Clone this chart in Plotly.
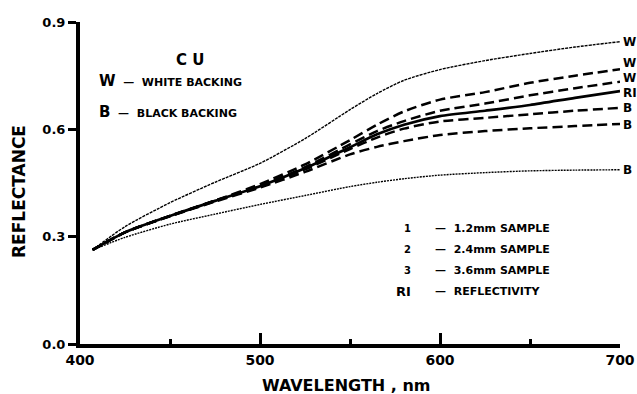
import plotly.graph_objects as go

# ---- data ----
wavelength = [407, 425, 450, 475, 500, 525, 550, 565, 580, 600, 625, 650, 675, 700]

w_thin = [0.263, 0.328, 0.395, 0.452, 0.505, 0.574, 0.655, 0.700, 0.737, 0.767, 0.792, 0.812, 0.830, 0.845]
w_dash_a = [0.263, 0.312, 0.358, 0.401, 0.447, 0.502, 0.570, 0.613, 0.650, 0.683, 0.704, 0.730, 0.750, 0.768]
w_dash_b = [0.263, 0.312, 0.358, 0.400, 0.443, 0.494, 0.558, 0.595, 0.623, 0.652, 0.672, 0.695, 0.715, 0.733]
reflectivity = [0.263, 0.312, 0.358, 0.400, 0.441, 0.491, 0.550, 0.586, 0.613, 0.637, 0.652, 0.668, 0.688, 0.707]
b_dash_a = [0.263, 0.312, 0.358, 0.400, 0.440, 0.488, 0.545, 0.577, 0.602, 0.622, 0.632, 0.642, 0.652, 0.660]
b_dash_b = [0.263, 0.312, 0.357, 0.398, 0.437, 0.481, 0.530, 0.551, 0.567, 0.584, 0.595, 0.603, 0.609, 0.615]
b_thin = [0.263, 0.298, 0.335, 0.363, 0.390, 0.415, 0.440, 0.452, 0.462, 0.472, 0.479, 0.484, 0.486, 0.487]

end_labels = ["W", "W", "W", "RI", "B", "B", "B"]
end_label_shift = [0, 6, 4, -2, 0, -1, 0]

x_ticks = [400, 500, 600, 700]
y_ticks = [0.0, 0.3, 0.6, 0.9]
y_ticktext = ["0.0", "0.3", "0.6", "0.9"]

legend_nums = ["1", "2", "3", "RI"]
legend_texts = ["1.2mm SAMPLE", "2.4mm SAMPLE", "3.6mm SAMPLE", "REFLECTIVITY"]

FONT = "DejaVu Sans"

series = [
    (w_thin, dict(width=1.4, dash="3px,1px")),
    (w_dash_a, dict(width=2.5, dash="10px,5px")),
    (w_dash_b, dict(width=2.5, dash="10px,5px")),
    (reflectivity, dict(width=2.7)),
    (b_dash_a, dict(width=2.5, dash="10px,5px")),
    (b_dash_b, dict(width=2.5, dash="10px,5px")),
    (b_thin, dict(width=1.4, dash="2px,1px")),
]

fig = go.Figure()
for vals, ln in series:
    fig.add_trace(go.Scatter(x=wavelength, y=vals, mode="lines",
                             line=dict(color="black", shape="spline", smoothing=0.7, **ln),
                             showlegend=False, hoverinfo="skip", cliponaxis=False))

annotations = []
for (vals, _), lab, sh in zip(series, end_labels, end_label_shift):
    annotations.append(dict(x=wavelength[-1], y=vals[-1], xref="x", yref="y", text=lab,
                            showarrow=False, xanchor="left", xshift=1, yshift=sh,
                            font=dict(family=FONT, size=12, color="black", weight="bold")))

# title block
annotations.append(dict(xref="x domain", yref="y domain", x=(174 - 80) / 540, y=(344 - 49) / 322,
                        text="C U", showarrow=False,
                        font=dict(family=FONT, size=15, color="black", weight="bold")))

for row_y, letter, words in [(81, "W", "WHITE BACKING"), (112, "B", "BLACK BACKING")]:
    annotations.append(dict(xref="x domain", yref="y domain", x=(97 - 80) / 540, y=(344 - row_y) / 322,
                            xanchor="left", yanchor="middle", showarrow=False,
                            text=f"<span style='font-size:15px'>{letter}</span>  —  {words}",
                            font=dict(family=FONT, size=11, color="black", weight="bold")))

# lower right key
for i, (num, txt) in enumerate(zip(legend_nums, legend_texts)):
    yy = (344 - (228 + i * 21)) / 322
    annotations.append(dict(xref="x domain", yref="y domain", x=(413 - 80) / 540, y=yy,
                            xanchor="right", yanchor="middle", showarrow=False, text=num,
                            font=dict(family=FONT, size=10 if num != "RI" else 13, color="black", weight="bold")))
    annotations.append(dict(xref="x domain", yref="y domain", x=(433 - 80) / 540, y=yy,
                            xanchor="left", yanchor="middle", showarrow=False, text=f"—  {txt}",
                            font=dict(family=FONT, size=11, color="black", weight="bold")))

# axis titles
annotations.append(dict(xref="x domain", yref="y domain", x=(346 - 80) / 540, y=(344 - 385) / 322,
                        xanchor="center", yanchor="middle", showarrow=False, text="WAVELENGTH , nm",
                        font=dict(family=FONT, size=16, color="black", weight="bold")))
annotations.append(dict(xref="x domain", yref="y domain", x=(19 - 80) / 540, y=(344 - 192) / 322,
                        xanchor="center", yanchor="middle", showarrow=False, text="REFLECTANCE",
                        textangle=-90,
                        font=dict(family=FONT, size=17, color="black", weight="bold")))

fig.update_layout(
    width=637, height=394,
    margin=dict(l=80, r=17, t=22, b=50, autoexpand=False),
    paper_bgcolor="white", plot_bgcolor="white",
    annotations=annotations,
    xaxis=dict(range=[400, 700], tickvals=x_ticks, ticktext=[str(v) for v in x_ticks],
               ticks="inside", ticklen=11, tickwidth=3, tickcolor="black", automargin=False,
               minor=dict(ticks="inside", ticklen=5, tickwidth=3, tickcolor="black", dtick=50, tick0=400),
               showline=True, linewidth=4, linecolor="black", showgrid=False, zeroline=False,
               tickfont=dict(family=FONT, size=14, color="black", weight="bold")),
    yaxis=dict(range=[0, 0.9], tickvals=y_ticks, ticktext=y_ticktext, automargin=False,
               ticks="outside", ticklen=8, tickwidth=3, tickcolor="black",
               showline=True, linewidth=4, linecolor="black", showgrid=False, zeroline=False,
               tickfont=dict(family=FONT, size=13, color="black", weight="bold")),
)

fig.write_html("out.html")
